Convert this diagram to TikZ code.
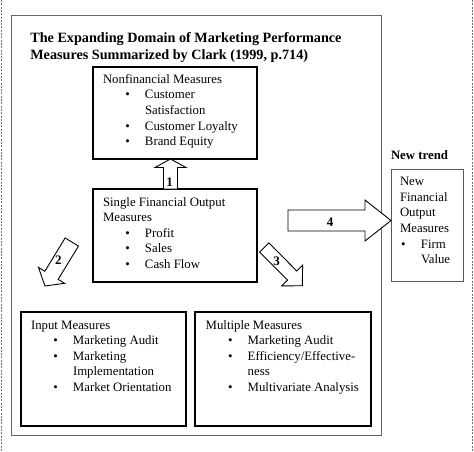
\documentclass[tikz,border=0pt]{standalone}
\usepackage{fontspec}
\setmainfont{Liberation Serif}
\usetikzlibrary{calc}
\newcommand{\bodyfont}{\fontsize{12.8}{15.6}\selectfont}
\newcommand{\titlefont}{\fontsize{14.2}{16.7}\selectfont\bfseries}
\newcommand{\Ltxt}[1]{\hbox{#1}}
\newcommand{\Lbul}[1]{\hbox{\hspace*{22.3pt}\makebox[19.7pt][l]{\textbullet}#1}}
\newcommand{\Lcont}[1]{\hbox{\hspace*{42pt}#1}}
\newcommand{\blockarrow}[6]{%
  \coordinate (#6hb) at ($(#2)!#5!(#1)$);
  \draw[arrowline] ($(#1)!#3!90:(#2)$) -- ($(#6hb)!#3!-90:(#1)$) -- ($(#6hb)!#4!-90:(#1)$)
    -- (#2) -- ($(#6hb)!#4!90:(#1)$) -- ($(#6hb)!#3!90:(#1)$) -- ($(#1)!#3!-90:(#2)$) -- cycle;}
\tikzset{
  edgeline/.style={draw=black!55, line width=1.2pt, dash pattern=on 2pt off 1.3pt},
  mainbox/.style={draw=black!60, line width=1pt, rectangle, inner sep=0pt, outer sep=0pt, anchor=north west},
  thickbox/.style={draw=black, line width=2pt, rectangle, inner sep=0pt, outer sep=0pt, anchor=north west},
  thinbox/.style={draw=black!65, line width=1pt, rectangle, inner sep=0pt, outer sep=0pt, anchor=north west},
  txt/.style={inner sep=0pt, outer sep=0pt, anchor=base west, font=\bodyfont},
  arrowline/.style={draw=black, line width=0.9pt, fill=white, line join=miter},
  lab/.style={inner sep=0pt, font=\fontsize{13}{15}\selectfont\bfseries}
}
\begin{document}
\begin{tikzpicture}[x=1pt,y=-1pt]
\useasboundingbox (0,0) rectangle (474,451);
\fill[white] (0,0) rectangle (474,451);
\draw[edgeline] (1.5,0) -- (1.5,451);
\draw[edgeline] (472.5,0) -- (472.5,451);

\node[mainbox, minimum width=370pt, minimum height=420pt] (main) at (11,15) {};
\node[txt, anchor=base west] (title) at (30.3,42.7)
  {\vtop{\titlefont\Ltxt{The Expanding Domain of Marketing Performance}\Ltxt{Measures Summarized by Clark (1999, p.714)}}};

\node[thickbox, minimum width=164pt, minimum height=92pt] (nf) at (93,67) {};
\node[txt] (nfT) at (103,83.3) {\vtop{\bodyfont
  \Ltxt{Nonfinancial Measures}
  \Lbul{Customer}
  \Lcont{Satisfaction}
  \Lbul{Customer Loyalty}
  \Lbul{Brand Equity}}};

\node[thickbox, minimum width=164pt, minimum height=93pt] (sf) at (93,189) {};
\node[txt] (sfT) at (103,206) {\vtop{\bodyfont
  \Ltxt{Single Financial Output}
  \Ltxt{Measures}
  \Lbul{Profit}
  \Lbul{Sales}
  \Lbul{Cash Flow}}};

\node[thickbox, minimum width=165pt, minimum height=113.7pt] (im) at (21,312.3) {};
\node[txt] (imT) at (31,329) {\vtop{\bodyfont
  \Ltxt{Input Measures}
  \Lbul{Marketing Audit}
  \Lbul{Marketing}
  \Lcont{Implementation}
  \Lbul{Market Orientation}}};

\node[thickbox, minimum width=176pt, minimum height=113.7pt] (mm) at (195,312.3) {};
\node[txt] (mmT) at (205.7,329) {\vtop{\bodyfont
  \Ltxt{Multiple Measures}
  \Lbul{Marketing Audit}
  \Lbul{Efficiency/Effective-}
  \Lcont{ness}
  \Lbul{Multivariate Analysis}}};

\node[txt, font=\bodyfont\bfseries] (ntlab) at (391,159.3) {New trend};
\node[thinbox, minimum width=72pt, minimum height=112.4pt] (nt) at (391,169.3) {};
\node[txt] (ntT) at (400,185.7) {\vtop{\bodyfont
  \Ltxt{New}
  \Ltxt{Financial}
  \Ltxt{Output}
  \Ltxt{Measures}
  \hbox{\hspace*{1pt}\makebox[20pt][l]{\textbullet}Firm}
  \hbox{\hspace*{21pt}Value}}};

% block arrows
\coordinate (a1tail) at (sf.north -| 170.5,0);
\coordinate (a1tip) at (nf.south -| 170.5,0);
\blockarrow{a1tail}{a1tip}{7pt}{15.5pt}{8.5pt}{aone}
\node[lab] (l1) at (169.5,182) {1};

\coordinate (a4tail) at (288,220.5);
\coordinate (a4tip) at (nt.west |- 0,220.5);
\blockarrow{a4tail}{a4tip}{10.5pt}{20.5pt}{26pt}{afour}
\node[lab] (l4) at (330,222) {4};

\coordinate (a2tail) at (71.8,242);
\coordinate (a2tip) at (45,286);
\blockarrow{a2tail}{a2tip}{7.8pt}{15.3pt}{12.5pt}{atwo}
\node[lab] (l2) at (58.3,260) {2};

\coordinate (a3tail) at (264.3,247.5);
\coordinate (a3tip) at (302.3,285.7);
\blockarrow{a3tail}{a3tip}{6.5pt}{14.8pt}{14.4pt}{athree}
\node[lab] (l3) at (276.7,261.7) {3};
\end{tikzpicture}
\end{document}
